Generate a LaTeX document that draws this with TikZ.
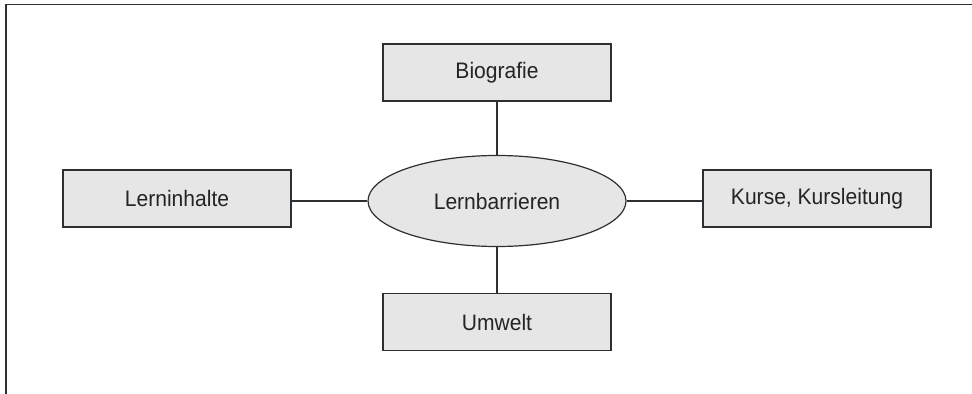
\documentclass[tikz,border=0pt]{standalone}
\usepackage{fontspec}
\setmainfont{Liberation Sans}[FakeStretch=0.94]
\usepackage{tikz}
\usetikzlibrary{shapes,positioning}
\usepackage{xcolor}
\definecolor{lbgray}{RGB}{230,230,230}
\definecolor{lbline}{RGB}{45,48,50}
\definecolor{lbtext}{RGB}{34,36,38}
\tikzstyle{topic} = [rectangle, minimum width=114pt, minimum height=28.5pt, text centered, draw=lbline, fill=lbgray, line width=0.65pt, text=lbtext, font=\fontsize{11.2}{13}\selectfont]
\tikzstyle{core} = [ellipse, minimum width=129pt, minimum height=45.5pt, inner sep=0pt, draw=lbline, fill=lbgray, line width=0.6pt, text=lbtext, font=\fontsize{11.2}{13}\selectfont]
\tikzstyle{link} = [line width=0.6pt, color=lbline]

\begin{document}
\begin{tikzpicture}[x=0.5pt, y=-0.5pt]
\useasboundingbox (0,0) rectangle (972,394);
% Frame
\draw[line width=0.7pt, lbline] (972,4.5) -- (6,4.5) -- (6,394);

% Centre
\node[core] (barr) at (497,201) {Lernbarrieren};

% Topics
\node[topic] (bio) at (497,72.5) {Biografie};
\node[topic] (inh) at (177,198.5) {Lerninhalte};
\node[topic] (kurs) at (817,198.5) {Kurse, Kursleitung};
\node[topic] (umw) at (497,322) {Umwelt};

% Links
\draw[link] (barr.north) -- (bio.south);
\draw[link] (barr.south) -- (umw.north);
\draw[link] (barr.west) -- (barr.west -| inh.east);
\draw[link] (barr.east) -- (barr.east -| kurs.west);
\end{tikzpicture}
\end{document}
